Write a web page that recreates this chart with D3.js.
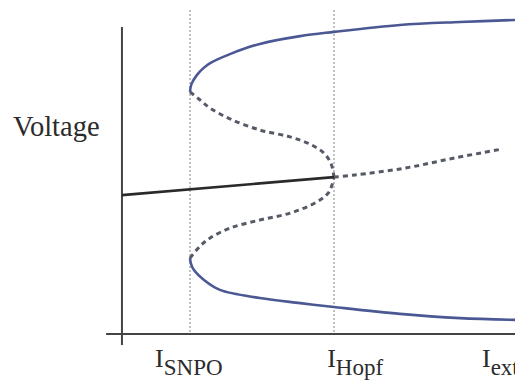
<!DOCTYPE html>
<html>
<head>
<meta charset="utf-8">
<script src="https://cdn.jsdelivr.net/npm/d3@7"></script>
<style>
  body { margin: 0; background: #fff; }
  svg { display: block; }
  text { font-family: "Liberation Serif", "Times New Roman", serif; fill: #2b2b2b; }
</style>
</head>
<body>
<script>
var width = 515,
    height = 380;

// bifurcation diagram, values (arbitrary units)
var stableOrbitMax = [[2.0, 8.07], [2.04, 8.33], [2.19, 8.63], [2.38, 8.87], [2.56, 9.03], [3.11, 9.33],
    [3.94, 9.67], [5.06, 9.93], [6.0, 10.07], [7.83, 10.3], [9.5, 10.4], [11.1, 10.47]];
var stableOrbitMin = [[2.0, 2.53], [2.03, 2.33], [2.11, 2.13], [2.39, 1.8], [2.83, 1.47], [3.94, 1.2],
    [5.06, 1.03], [6.0, 0.9], [7.83, 0.67], [9.5, 0.53], [11.1, 0.47]];
var unstableOrbitMax = [[2.0, 8.07], [2.28, 7.8], [2.56, 7.53], [3.11, 7.17], [3.94, 6.8], [4.78, 6.57],
    [5.33, 6.33], [5.72, 6.03], [5.92, 5.67], [6.0, 5.23]];
var unstableOrbitMin = [[2.0, 2.53], [2.28, 2.93], [2.56, 3.2], [3.11, 3.53], [3.94, 3.8], [4.78, 4.03],
    [5.52, 4.4], [5.86, 4.73], [6.0, 5.23]];
var stableRest = [[0.11, 4.63], [6.0, 5.23]];
var unstableRest = [[6.0, 5.23], [6.58, 5.3], [7.97, 5.53], [9.36, 5.87], [10.69, 6.17]];

var markers = [2, 6];                       // I_SNPO, I_Hopf
var tickLabels = [["I", "SNPO", 1.03], ["I", "Hopf", 5.81], ["I", "ext", 10.11]];
var yLabel = "Voltage";

var x = d3.scaleLinear().domain([0, 10]).range([118, 478]);
var y = d3.scaleLinear().domain([0, 10]).range([334, 34]);

var svg = d3.select("body").append("svg")
    .attr("width", width)
    .attr("height", height);

var line = d3.line()
    .x(d => x(d[0]))
    .y(d => y(d[1]))
    .curve(d3.curveCatmullRom);

// dotted guides
svg.selectAll(".guide")
    .data(markers)
    .enter().append("line")
    .attr("class", "guide")
    .attr("x1", d => x(d)).attr("x2", d => x(d))
    .attr("y1", y(10.8)).attr("y2", y(0))
    .attr("stroke", "#9a9a9a")
    .attr("stroke-width", 1.2)
    .attr("stroke-dasharray", "2,2");

// axes
svg.append("line")
    .attr("x1", x(0.11)).attr("x2", x(0.11))
    .attr("y1", y(10.23)).attr("y2", y(-0.37))
    .attr("stroke", "#444").attr("stroke-width", 2);
svg.append("line")
    .attr("x1", x(-0.33)).attr("x2", x(11.2))
    .attr("y1", y(0)).attr("y2", y(0))
    .attr("stroke", "#444").attr("stroke-width", 2);

// stable periodic orbit
[stableOrbitMax, stableOrbitMin].forEach(function (s) {
    svg.append("path")
        .attr("d", line(s))
        .attr("fill", "none")
        .attr("stroke", "#4b5894")
        .attr("stroke-width", 2.6);
});

// unstable branches
[unstableOrbitMax, unstableOrbitMin, unstableRest].forEach(function (s) {
    svg.append("path")
        .attr("d", line(s))
        .attr("fill", "none")
        .attr("stroke", "#555a66")
        .attr("stroke-width", 3)
        .attr("stroke-dasharray", "5,4");
});

// stable rest state
svg.append("path")
    .attr("d", line(stableRest))
    .attr("fill", "none")
    .attr("stroke", "#2a2a2a")
    .attr("stroke-width", 2.6);

// labels
svg.append("text")
    .attr("x", 13).attr("y", 136)
    .attr("font-size", 28.5)
    .text(yLabel);

var lab = svg.selectAll(".tick-label")
    .data(tickLabels)
    .enter().append("text")
    .attr("class", "tick-label")
    .attr("x", d => x(d[2]))
    .attr("y", 367)
    .attr("font-size", 26);
lab.append("tspan").text(d => d[0]);
lab.append("tspan")
    .attr("dy", 8)
    .attr("font-size", 23)
    .text(d => d[1]);
</script>
</body>
</html>
